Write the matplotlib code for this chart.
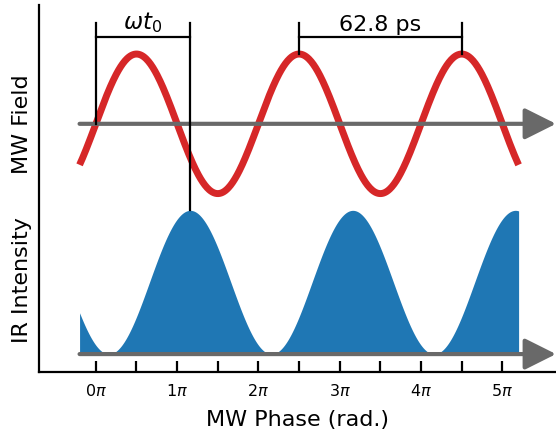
import numpy as np
import matplotlib
matplotlib.use('Agg')
import matplotlib.pyplot as plt
from matplotlib.transforms import blended_transform_factory

# phase window and wave parameters (units of pi)
x_start, x_stop = -0.2, 5.2
ir_delay = 1.16          # IR peak lags the MW zero crossing by ~1.16 pi
mw_center = 3.3          # vertical offset of the MW trace
mw_amp = 1.0
ir_amp = 2.06

tick_major = [0, 1, 2, 3, 4, 5]
tick_minor = [0.5, 1.5, 2.5, 3.5, 4.5]
tick_labels = [r'$0\pi$', r'$1\pi$', r'$2\pi$', r'$3\pi$', r'$4\pi$', r'$5\pi$']
period_label = '62.8 ps'
delay_label = r'$\omega t_0$'

phase = np.linspace(x_start, x_stop, 600) * np.pi
mw = mw_center + mw_amp * np.sin(phase)
ir = ir_amp * np.sin((phase - ir_delay * np.pi) / 2 + np.pi / 2) ** 2

fig = plt.figure(figsize=(5.56, 4.33), dpi=100)
ax = fig.add_axes([0.070, 0.142, 0.930, 0.846])

ax.fill_between(phase, 0, ir, color='tab:blue', lw=0)
ax.plot(phase, mw, color='tab:red', lw=5, solid_capstyle='butt', zorder=3)

# gray axis arrows
tip = 5.66 * np.pi
for yy in [0, mw_center]:
    ax.annotate('', xy=(tip, yy), xytext=(x_start * np.pi, yy),
                arrowprops=dict(arrowstyle='-|>', color='dimgray', lw=3,
                                mutation_scale=48, shrinkA=0, shrinkB=0),
                zorder=4)

# brackets
bar_y = 4.54
top_y = 4.74
lw_b = 1.6
# omega t0
ax.plot([0, 0], [mw_center, top_y], color='k', lw=lw_b, zorder=5)
ax.plot([ir_delay * np.pi] * 2, [ir_amp, top_y], color='k', lw=lw_b, zorder=5)
ax.plot([0, ir_delay * np.pi], [bar_y, bar_y], color='k', lw=lw_b, zorder=5)
ax.text(ir_delay * np.pi / 2, bar_y + 0.03, delay_label, ha='center', va='bottom', fontsize=16.5)
# period
p0, p1 = 2.5 * np.pi, 4.5 * np.pi
ax.plot([p0, p0], [mw_center + mw_amp, top_y], color='k', lw=lw_b, zorder=5)
ax.plot([p1, p1], [mw_center + mw_amp, top_y], color='k', lw=lw_b, zorder=5)
ax.plot([p0, p1], [bar_y, bar_y], color='k', lw=lw_b, zorder=5)
ax.text((p0 + p1) / 2, bar_y + 0.03, period_label, ha='center', va='bottom', fontsize=16)

ax.set_xlim(-0.70 * np.pi, 5.66 * np.pi)
ax.set_ylim(-0.25, 5.0)
ax.set_xticks(np.array(tick_major) * np.pi)
ax.set_xticklabels(tick_labels, fontsize=11.5)
ax.set_xticks(np.array(tick_minor) * np.pi, minor=True)
ax.tick_params(axis='x', which='both', direction='in', length=8, width=1.6, pad=8)
ax.set_yticks([])
ax.spines['top'].set_visible(False)
ax.spines['right'].set_visible(False)
ax.spines['left'].set_linewidth(1.6)
ax.spines['bottom'].set_linewidth(1.6)
ax.set_xlabel('MW Phase (rad.)', fontsize=16, labelpad=8)

tr = blended_transform_factory(ax.transAxes, ax.transData)
ax.text(-0.033, mw_center, 'MW Field', rotation=90, ha='center', va='center',
        fontsize=16, transform=tr)
ax.text(-0.033, ir_amp / 2 + 0.03, 'IR Intensity', rotation=90, ha='center', va='center',
        fontsize=16, transform=tr)

fig.savefig('out.png', dpi=100)
